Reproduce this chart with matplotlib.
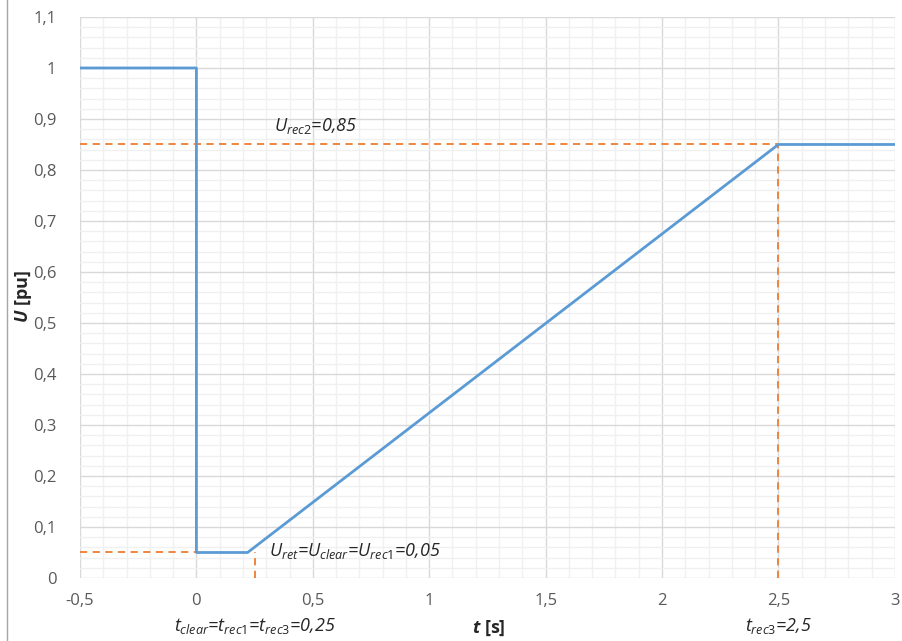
import matplotlib
matplotlib.use("Agg")
import matplotlib.pyplot as plt
from matplotlib.ticker import MultipleLocator, FuncFormatter
from matplotlib.lines import Line2D

# data
t_vals = [-0.5, 0.0, 0.0, 0.22, 2.5, 3.0]
u_vals = [1.0, 1.0, 0.05, 0.05, 0.85, 0.85]
u_rec2 = 0.85
u_ret = 0.05
t_clear = 0.25
t_rec3 = 2.5
x_min, x_max = -0.5, 3.0
y_min, y_max = 0.0, 1.1

plt.rcParams['font.family'] = ['Open Sans', 'DejaVu Sans']
plt.rcParams['mathtext.fontset'] = 'custom'
plt.rcParams['mathtext.it'] = 'Open Sans:italic'
plt.rcParams['mathtext.rm'] = 'Open Sans'
plt.rcParams['mathtext.bf'] = 'Open Sans:bold'
plt.rcParams['mathtext.bfit'] = 'Open Sans:italic:bold'

fig = plt.figure(figsize=(9.02, 6.41), dpi=100)
ax = fig.add_axes([0.0887, 0.0983, 0.992 - 0.0887, 0.9735 - 0.0983])

blue = '#5B9BD5'
orange = '#ED7D31'
tick_col = '#595959'

ax.set_xlim(x_min, x_max)
ax.set_ylim(y_min, y_max)
ax.xaxis.set_major_locator(MultipleLocator(0.5))
ax.xaxis.set_minor_locator(MultipleLocator(0.1))
ax.yaxis.set_major_locator(MultipleLocator(0.1))
ax.yaxis.set_minor_locator(MultipleLocator(0.02))

def fmt(v, pos):
    s = ('%.1f' % v)
    if s.endswith('.0'):
        s = s[:-2]
    if s == '-0':
        s = '0'
    return s.replace('.', ',')

ax.xaxis.set_major_formatter(FuncFormatter(fmt))
ax.yaxis.set_major_formatter(FuncFormatter(fmt))

ax.grid(True, which='minor', color='#F0F0F0', lw=1.0, zorder=0)
ax.grid(True, which='major', color='#D9D9D9', lw=1.0, zorder=0)
ax.set_axisbelow(True)
for s in ax.spines.values():
    s.set_visible(False)
ax.tick_params(which='both', length=0, colors=tick_col, labelsize=12)
ax.tick_params(axis='x', pad=11)
ax.tick_params(axis='y', pad=17)

# orange dashed guides
dash = dict(color=orange, lw=1.3, ls=(0, (4, 3)), zorder=2)
ax.plot([x_min, t_rec3], [u_rec2, u_rec2], **dash)
ax.plot([t_rec3, t_rec3], [y_min, u_rec2], **dash)
ax.plot([x_min, 0], [u_ret, u_ret], **dash)
ax.plot([t_clear, t_clear], [y_min, u_ret], **dash)

ax.plot(t_vals, u_vals, color=blue, lw=2.0, zorder=3)

tc = '#262626'
ax.text(0.335, 0.886, r'$U_{\mathit{rec2}}$=0,85', fontsize=13, style='italic', color=tc, ha='left', va='center')
ax.text(0.312, 0.053, r'$U_{\mathit{ret}}$=$U_{\mathit{clear}}$=$U_{\mathit{rec1}}$=0,05', fontsize=13, style='italic', color=tc, ha='left', va='center')

fig.text(255/902, 1 - 626/641, r'$t_{\mathit{clear}}$=$t_{\mathit{rec1}}$=$t_{\mathit{rec3}}$=0,25', fontsize=13, style='italic', color=tc, ha='center', va='center')
fig.text(778/902, 1 - 626/641, r'$t_{\mathit{rec3}}$=2,5', fontsize=13, style='italic', color=tc, ha='center', va='center')
fig.text(489/902, 1 - 628/641, r'$\mathbfit{t}$ [s]', fontsize=13, weight='bold', color=tc, ha='center', va='center')
fig.text(24/902, 1 - 297/641, r'$\mathbfit{U}$ [pu]', fontsize=13, weight='bold', color=tc, ha='center', va='center', rotation=90)

fig.add_artist(Line2D([7/902, 7/902], [0, 1], color='#A6A6A6', lw=1.0, transform=fig.transFigure))

fig.savefig('out.png', dpi=100)
